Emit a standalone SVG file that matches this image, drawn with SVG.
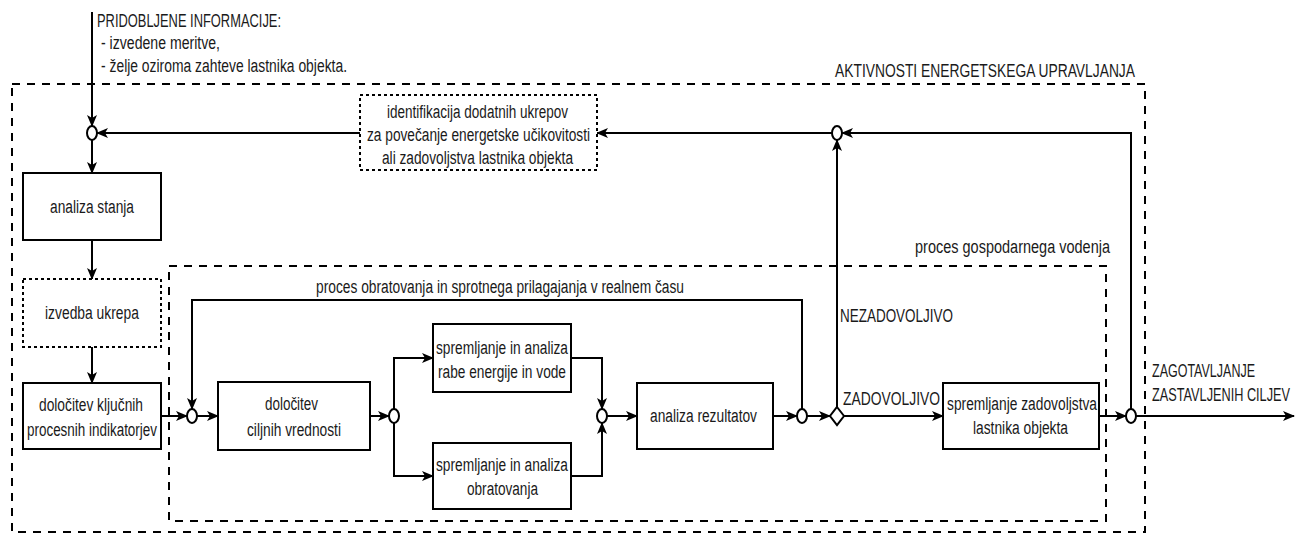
<svg xmlns="http://www.w3.org/2000/svg" width="1301" height="534" viewBox="0 0 1301 534">
<defs>
<marker id="arr" viewBox="0 0 12 10" markerWidth="12" markerHeight="10" refX="11" refY="5" orient="auto" markerUnits="userSpaceOnUse">
<path d="M0,0 L12,5 L0,10 L3,5 z" fill="#000"/>
</marker>
<style>
text{font-family:"Liberation Sans",Arial,sans-serif;font-size:18px;fill:#1a1a1a}
.box{fill:#fff;stroke:#000;stroke-width:2}
.dot{fill:#fff;stroke:#000;stroke-width:2;stroke-dasharray:3 3}
.dash{fill:none;stroke:#000;stroke-width:2;stroke-dasharray:8 7}
.ln{fill:none;stroke:#000;stroke-width:2}
.a{marker-end:url(#arr)}
.j{fill:#fff;stroke:#000;stroke-width:2}
</style>
</defs>
<rect width="1301" height="534" fill="#fff"/>

<g id="outer-frame">
<rect class="dash" x="12" y="84" width="1133" height="448"/>
<text x="835" y="77" textLength="300" lengthAdjust="spacingAndGlyphs">AKTIVNOSTI ENERGETSKEGA UPRAVLJANJA</text>
</g>
<g id="inner-frame">
<rect class="dash" x="169" y="266" width="937" height="255"/>
<text x="915" y="253" textLength="195" lengthAdjust="spacingAndGlyphs">proces gospodarnega vodenja</text>
</g>

<g id="input-label">
<text x="97" y="27" textLength="184" lengthAdjust="spacingAndGlyphs">PRIDOBLJENE INFORMACIJE:</text>
<text x="101" y="49" textLength="119" lengthAdjust="spacingAndGlyphs">- izvedene meritve,</text>
<text x="101" y="72" textLength="246" lengthAdjust="spacingAndGlyphs">- želje oziroma zahteve lastnika objekta.</text>
</g>

<g id="connectors">
<path class="ln a" d="M92,12 V126"/>
<path class="ln a" d="M92,140 V173"/>
<path class="ln a" d="M92,240 V279"/>
<path class="ln a" d="M92,347 V383"/>
<path class="ln a" d="M161,416 H187"/>
<path class="ln a" d="M197,416 H218"/>
<path class="ln a" d="M370,416 H389"/>
<path class="ln a" d="M394,409 V358 H433"/>
<path class="ln a" d="M394,423 V476 H433"/>
<path class="ln a" d="M571,358 H602 V409"/>
<path class="ln a" d="M571,476 H602 V423"/>
<path class="ln a" d="M607,416 H637"/>
<path class="ln a" d="M773,416 H797"/>
<path class="ln a" d="M802,409 V300 H192 V409"/>
<path class="ln a" d="M807,416 H830"/>
<path class="ln a" d="M844,416 H943"/>
<path class="ln a" d="M837,407 V140"/>
<path class="ln a" d="M832,133 H597"/>
<path class="ln a" d="M360,133 H97"/>
<path class="ln a" d="M1099,416 H1126"/>
<path class="ln a" d="M1131,409 V133 H842"/>
<path class="ln a" d="M1136,416 H1294"/>
<text x="316" y="293" textLength="368" lengthAdjust="spacingAndGlyphs">proces obratovanja in sprotnega prilagajanja v realnem času</text>
<text x="840" y="322" textLength="113" lengthAdjust="spacingAndGlyphs">NEZADOVOLJIVO</text>
<text x="843" y="405" textLength="97" lengthAdjust="spacingAndGlyphs">ZADOVOLJIVO</text>
<text x="1152" y="377" textLength="103" lengthAdjust="spacingAndGlyphs">ZAGOTAVLJANJE</text>
<text x="1152" y="401" textLength="138" lengthAdjust="spacingAndGlyphs">ZASTAVLJENIH CILJEV</text>
</g>

<g id="junctions">
<ellipse id="j1" class="j" cx="92" cy="133" rx="5" ry="7"/>
<ellipse id="j2" class="j" cx="192" cy="416" rx="5" ry="7"/>
<ellipse id="j3" class="j" cx="394" cy="416" rx="5" ry="7"/>
<ellipse id="j4" class="j" cx="602" cy="416" rx="5" ry="7"/>
<ellipse id="j5" class="j" cx="802" cy="416" rx="5" ry="7"/>
<ellipse id="j6" class="j" cx="837" cy="133" rx="5" ry="7"/>
<ellipse id="j7" class="j" cx="1131" cy="416" rx="5" ry="7"/>
<path id="decision" class="j" d="M837,407 L844,416 L837,425 L830,416 z"/>
</g>

<g id="identifikacija">
<rect class="dot" x="360" y="95" width="237" height="75"/>
<text x="387" y="118" textLength="181" lengthAdjust="spacingAndGlyphs">identifikacija dodatnih ukrepov</text>
<text x="367" y="141" textLength="223" lengthAdjust="spacingAndGlyphs">za povečanje energetske učikovitosti</text>
<text x="382" y="164" textLength="191" lengthAdjust="spacingAndGlyphs">ali zadovoljstva lastnika objekta</text>
</g>
<g id="analiza-stanja">
<rect class="box" x="23" y="173" width="138" height="67"/>
<text x="50" y="213" textLength="84" lengthAdjust="spacingAndGlyphs">analiza stanja</text>
</g>
<g id="izvedba-ukrepa">
<rect class="dot" x="23" y="279" width="138" height="68"/>
<text x="45" y="319" textLength="94" lengthAdjust="spacingAndGlyphs">izvedba ukrepa</text>
</g>
<g id="dolocitev-kpi">
<rect class="box" x="23" y="383" width="138" height="66"/>
<text x="39" y="411" textLength="104" lengthAdjust="spacingAndGlyphs">določitev ključnih</text>
<text x="27" y="436" textLength="130" lengthAdjust="spacingAndGlyphs">procesnih indikatorjev</text>
</g>
<g id="dolocitev-ciljnih">
<rect class="box" x="218" y="382" width="152" height="68"/>
<text x="265" y="410" textLength="53" lengthAdjust="spacingAndGlyphs">določitev</text>
<text x="247" y="436" textLength="94" lengthAdjust="spacingAndGlyphs">ciljnih vrednosti</text>
</g>
<g id="spremljanje-rabe">
<rect class="box" x="433" y="324" width="138" height="68"/>
<text x="436" y="354" textLength="132" lengthAdjust="spacingAndGlyphs">spremljanje in analiza</text>
<text x="438" y="378" textLength="128" lengthAdjust="spacingAndGlyphs">rabe energije in vode</text>
</g>
<g id="spremljanje-obratovanja">
<rect class="box" x="433" y="443" width="138" height="66"/>
<text x="436" y="471" textLength="132" lengthAdjust="spacingAndGlyphs">spremljanje in analiza</text>
<text x="467" y="495" textLength="71" lengthAdjust="spacingAndGlyphs">obratovanja</text>
</g>
<g id="analiza-rezultatov">
<rect class="box" x="637" y="383" width="136" height="66"/>
<text x="650" y="422" textLength="107" lengthAdjust="spacingAndGlyphs">analiza rezultatov</text>
</g>
<g id="spremljanje-zadovoljstva">
<rect class="box" x="943" y="383" width="156" height="66"/>
<text x="947" y="410" textLength="150" lengthAdjust="spacingAndGlyphs">spremljanje zadovoljstva</text>
<text x="973" y="434" textLength="95" lengthAdjust="spacingAndGlyphs">lastnika objekta</text>
</g>
</svg>
